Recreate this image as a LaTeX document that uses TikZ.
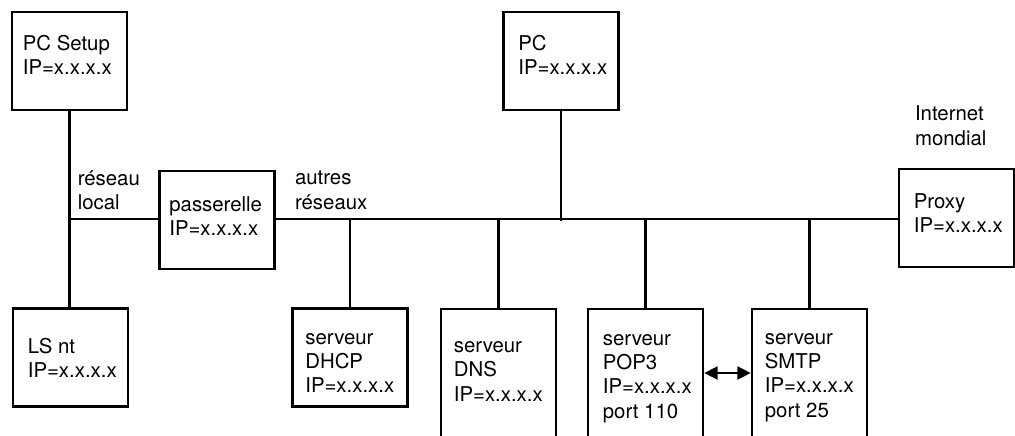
\documentclass[tikz,border=0pt]{standalone}
\usepackage{fontspec}
\setmainfont{TeX Gyre Heros}
\usetikzlibrary{arrows.meta, positioning}

\begin{document}
\begin{tikzpicture}[x=0.02cm, y=-0.02cm, line width=1.2pt,
	box/.style ={draw, rectangle, inner sep=0pt, line width=1.4pt, minimum width=2.3cm, minimum height=1.96cm},
	tallbox/.style ={box, minimum height=4cm, anchor=north},
	txt/.style ={inner sep=0pt, anchor=base west, align=left, font=\fontsize{11.6}{13.7}\selectfont},
	mail/.style ={{Triangle[length=2.7mm,width=2.6mm]}-{Triangle[length=2.7mm,width=2.6mm]}}]
	\clip (0,0) rectangle (1015,436);
	\node[box] (pcsetup) at (69.5,61) {};
	\node[box] (lsnt) at (70.5,357.5) {};
	\node[box] (passerelle) at (217,220) {};
	\node[box] (dhcp) at (350,357.5) {};
	\node[box] (pc) at (561,61) {};
	\node[box] (proxy) at (956.5,218) {};
	\node[tallbox] (dns) at (498.5,308) {};
	\node[tallbox] (pop) at (645.5,308) {};
	\node[tallbox] (smtp) at (809.5,308) {};
	% texte des boites (ancre = derniere ligne)
	\node[txt] at ([shift={(11,64)}]pcsetup.north west) {PC Setup\\IP=x.x.x.x};
	\node[txt] at ([shift={(15,70)}]lsnt.north west) {LS nt\\IP=x.x.x.x};
	\node[txt] at ([shift={(10,66)}]passerelle.north west) {passerelle\\IP=x.x.x.x};
	\node[txt] at ([shift={(13,85)}]dhcp.north west) {serveur\\DHCP\\IP=x.x.x.x};
	\node[txt] at ([shift={(15,64)}]pc.north west) {PC\\IP=x.x.x.x};
	\node[txt] at ([shift={(15,65)}]proxy.north west) {Proxy\\IP=x.x.x.x};
	\node[txt] at ([shift={(13,93)}]dns.north west) {serveur\\DNS\\IP=x.x.x.x};
	\node[txt] at ([shift={(15,110)}]pop.north west) {serveur\\POP3\\IP=x.x.x.x\\port 110};
	\node[txt] at ([shift={(13,109)}]smtp.north west) {serveur\\SMTP\\IP=x.x.x.x\\port 25};
	\node[txt] (lanlabel) at (76.7,209.5) {réseau\\local};
	\node[txt] (wanlabel) at (294,209) {autres\\réseaux};
	\node[txt] (inet) at (914,145) {Internet\\mondial};
	% liaisons
	\coordinate (lan) at (69,219);
	\coordinate (pipe) at (0,373);
	\draw (pcsetup.south) -- (pcsetup.south |- lsnt.north);
	\draw (lan) -- (lan -| passerelle.west);
	\draw (passerelle.east |- lan) -- (proxy.west |- lan);
	\draw (pc.south) -- ([yshift=-1pt]pc |- lan);
	\draw (dhcp.north) -- (dhcp |- lan);
	\draw (dns.north) -- (dns |- lan);
	\draw (pop.north) -- (pop |- lan);
	\draw (smtp.north) -- (smtp |- lan);
	\draw[mail] (pop.east |- pipe) -- (smtp.west |- pipe);
\end{tikzpicture}
\end{document}
